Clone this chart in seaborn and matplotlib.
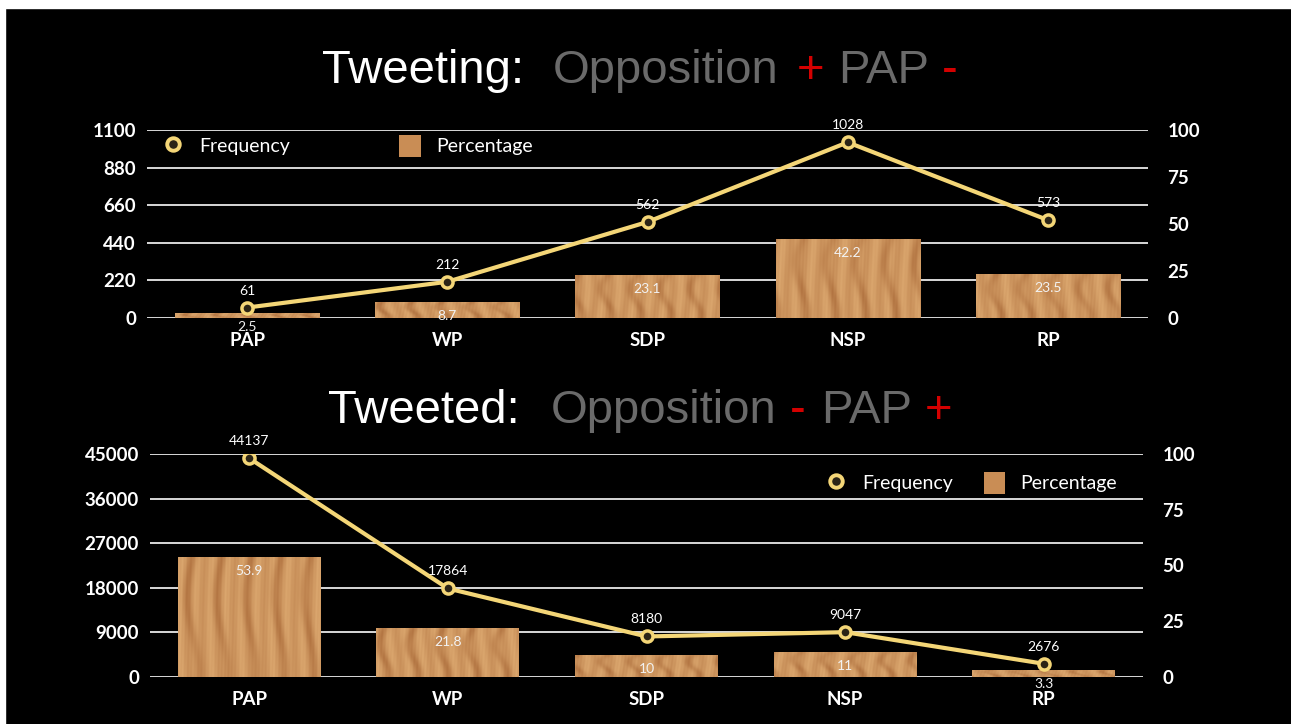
import numpy as np
import pandas as pd
import matplotlib
matplotlib.use("Agg")
import matplotlib.pyplot as plt
import seaborn as sns
from matplotlib.lines import Line2D
from matplotlib.patches import Patch, Rectangle

# data
parties = ["PAP", "WP", "SDP", "NSP", "RP"]
tweeting_freq = [61, 212, 562, 1028, 573]
tweeting_pct = [2.5, 8.7, 23.1, 42.2, 23.5]
tweeted_freq = [44137, 17864, 8180, 9047, 2676]
tweeted_pct = [53.9, 21.8, 10, 11, 3.3]

top_freq_ticks = [0, 220, 440, 660, 880, 1100]
bottom_freq_ticks = [0, 9000, 18000, 27000, 36000, 45000]
pct_ticks = [0, 25, 50, 75, 100]

YELLOW = "#f4d677"
GRID = "#d8d8d8"
GREY = "#6a6a6a"
RED = "#d40000"
WOOD = "#c98d55"

sns.set_theme(style="ticks")
plt.rcParams["font.family"] = ["Lato", "DejaVu Sans"]
TITLE_FONT = ["Liberation Sans", "DejaVu Sans"]
W, H = 1291, 724


def wood_texture(phase, h=160, w=140):
    # soft vertical grain, no randomness
    yy, xx = np.mgrid[0:h, 0:w]
    grain = np.sin(xx * 0.42 + phase + 1.1 * np.sin(yy * 0.018 + phase))
    streak = np.sin(xx * 0.11 + 0.6 * np.sin(yy * 0.03) + phase * 2) ** 8
    fine = np.sin(xx * 1.9 + yy * 0.04 + phase * 3)
    t = np.clip(0.68 + 0.12 * grain + 0.05 * fine - 0.35 * streak, 0, 1)[..., None]
    light = np.array([228, 178, 120]) / 255
    dark = np.array([168, 104, 55]) / 255
    return dark + (light - dark) * t


def draw_panel(ax, freq, pct, freq_ticks, legend_kw):
    df = pd.DataFrame({"party": parties, "freq": freq, "pct": pct})
    ax2 = ax.twinx()
    ax3 = ax.twinx()

    sns.barplot(data=df, x="party", y="pct", ax=ax2, color=WOOD, width=0.72,
                saturation=1, errorbar=None, edgecolor="none", linewidth=0)
    for i, bar in enumerate(ax2.patches):
        x0, y0 = bar.get_x(), bar.get_y()
        im = ax2.imshow(wood_texture(i * 1.9), aspect="auto", interpolation="bilinear",
                        extent=(x0, x0 + bar.get_width(), y0, y0 + bar.get_height()),
                        zorder=bar.get_zorder() + 0.1)
        im.set_clip_path(bar)

    sns.pointplot(data=df, x="party", y="freq", ax=ax3, color=YELLOW, errorbar=None,
                  markers="o", linewidth=3, markersize=8,
                  markeredgewidth=2.5, markeredgecolor=YELLOW, markerfacecolor="#2b2416")

    for i, (f, p) in enumerate(zip(freq, pct)):
        ax3.annotate(f"{f}", (i, f), xytext=(0, 17), textcoords="offset pixels",
                     ha="center", va="center", color="white", fontsize=10)
        ax2.annotate(f"{p:g}", (i, p), xytext=(0, -14), textcoords="offset pixels",
                     ha="center", va="center", color="#f2f2f2", fontsize=10, zorder=5)

    ax.set_facecolor("black")
    ax.set_ylim(0, freq_ticks[-1])
    ax3.set_ylim(0, freq_ticks[-1])
    ax2.set_ylim(0, 100)
    ax.set_yticks(freq_ticks)
    ax2.set_yticks(pct_ticks)
    ax.set_xticks(range(len(parties)), parties)
    ax.set_xlim(-0.5, len(parties) - 0.5)
    ax3.yaxis.set_visible(False)
    ax.grid(axis="y", color=GRID, lw=1.4)
    ax.grid(axis="x", visible=False)
    for a in (ax, ax2, ax3):
        a.set_xlabel("")
        a.set_ylabel("")
        for s in a.spines.values():
            s.set_visible(False)
    ax.tick_params(axis="y", length=0, pad=8, labelsize=13.5, labelcolor="white")
    ax.tick_params(axis="x", length=0, pad=10, labelsize=13.5, labelcolor="white")
    ax2.tick_params(axis="y", length=0, pad=14, labelsize=13.5, labelcolor="white")
    for lab in ax.get_xticklabels() + ax.get_yticklabels() + ax2.get_yticklabels():
        lab.set_fontweight("bold")

    handles = [Line2D([0], [0], marker="o", ls="none", markersize=9, mew=2.8,
                      mec=YELLOW, mfc="#2b2416"),
               Patch(facecolor=WOOD, edgecolor="none")]
    ax3.legend(handles, ["Frequency", "Percentage"], ncol=2, frameon=False,
               fontsize=14, labelcolor="white", handlelength=1.1, handleheight=1.4,
               handletextpad=0.8, borderaxespad=0, **legend_kw)
    return ax2, ax3


def colored_title(y, pieces):
    for s, c, x in pieces:
        fig.text(x / W, 1 - y / H, s, color=c, fontsize=34, family=TITLE_FONT,
                 ha="left", va="baseline")


fig = plt.figure(figsize=(W / 100, H / 100), dpi=100, facecolor="black")
fig.add_artist(Rectangle((0, 1 - 8 / H), 1, 8 / H, transform=fig.transFigure,
                         color="white", zorder=-1))
fig.add_artist(Rectangle((0, 0), 5 / W, 1, transform=fig.transFigure,
                         color="white", zorder=-1))

ax_top = fig.add_axes([147 / W, 1 - 318 / H, 1001 / W, 188 / H])
ax_bot = fig.add_axes([150 / W, 1 - 677 / H, 993 / W, 223 / H])

draw_panel(ax_top, tweeting_freq, tweeting_pct, top_freq_ticks,
           dict(loc="center left", bbox_to_anchor=(0.008, 0.915), columnspacing=5.6))
draw_panel(ax_bot, tweeted_freq, tweeted_pct, bottom_freq_ticks,
           dict(loc="center right", bbox_to_anchor=(0.982, 0.87), columnspacing=1.6))

colored_title(83, [("Tweeting:", "white", 322), ("Opposition", GREY, 553),
                   ("+", RED, 797), ("PAP", GREY, 838), ("-", RED, 942)])
colored_title(423, [("Tweeted:", "white", 328), ("Opposition", GREY, 551),
                    ("-", RED, 790), ("PAP", GREY, 821), ("+", RED, 925)])

fig.savefig("out.png", dpi=100, facecolor=fig.get_facecolor())
